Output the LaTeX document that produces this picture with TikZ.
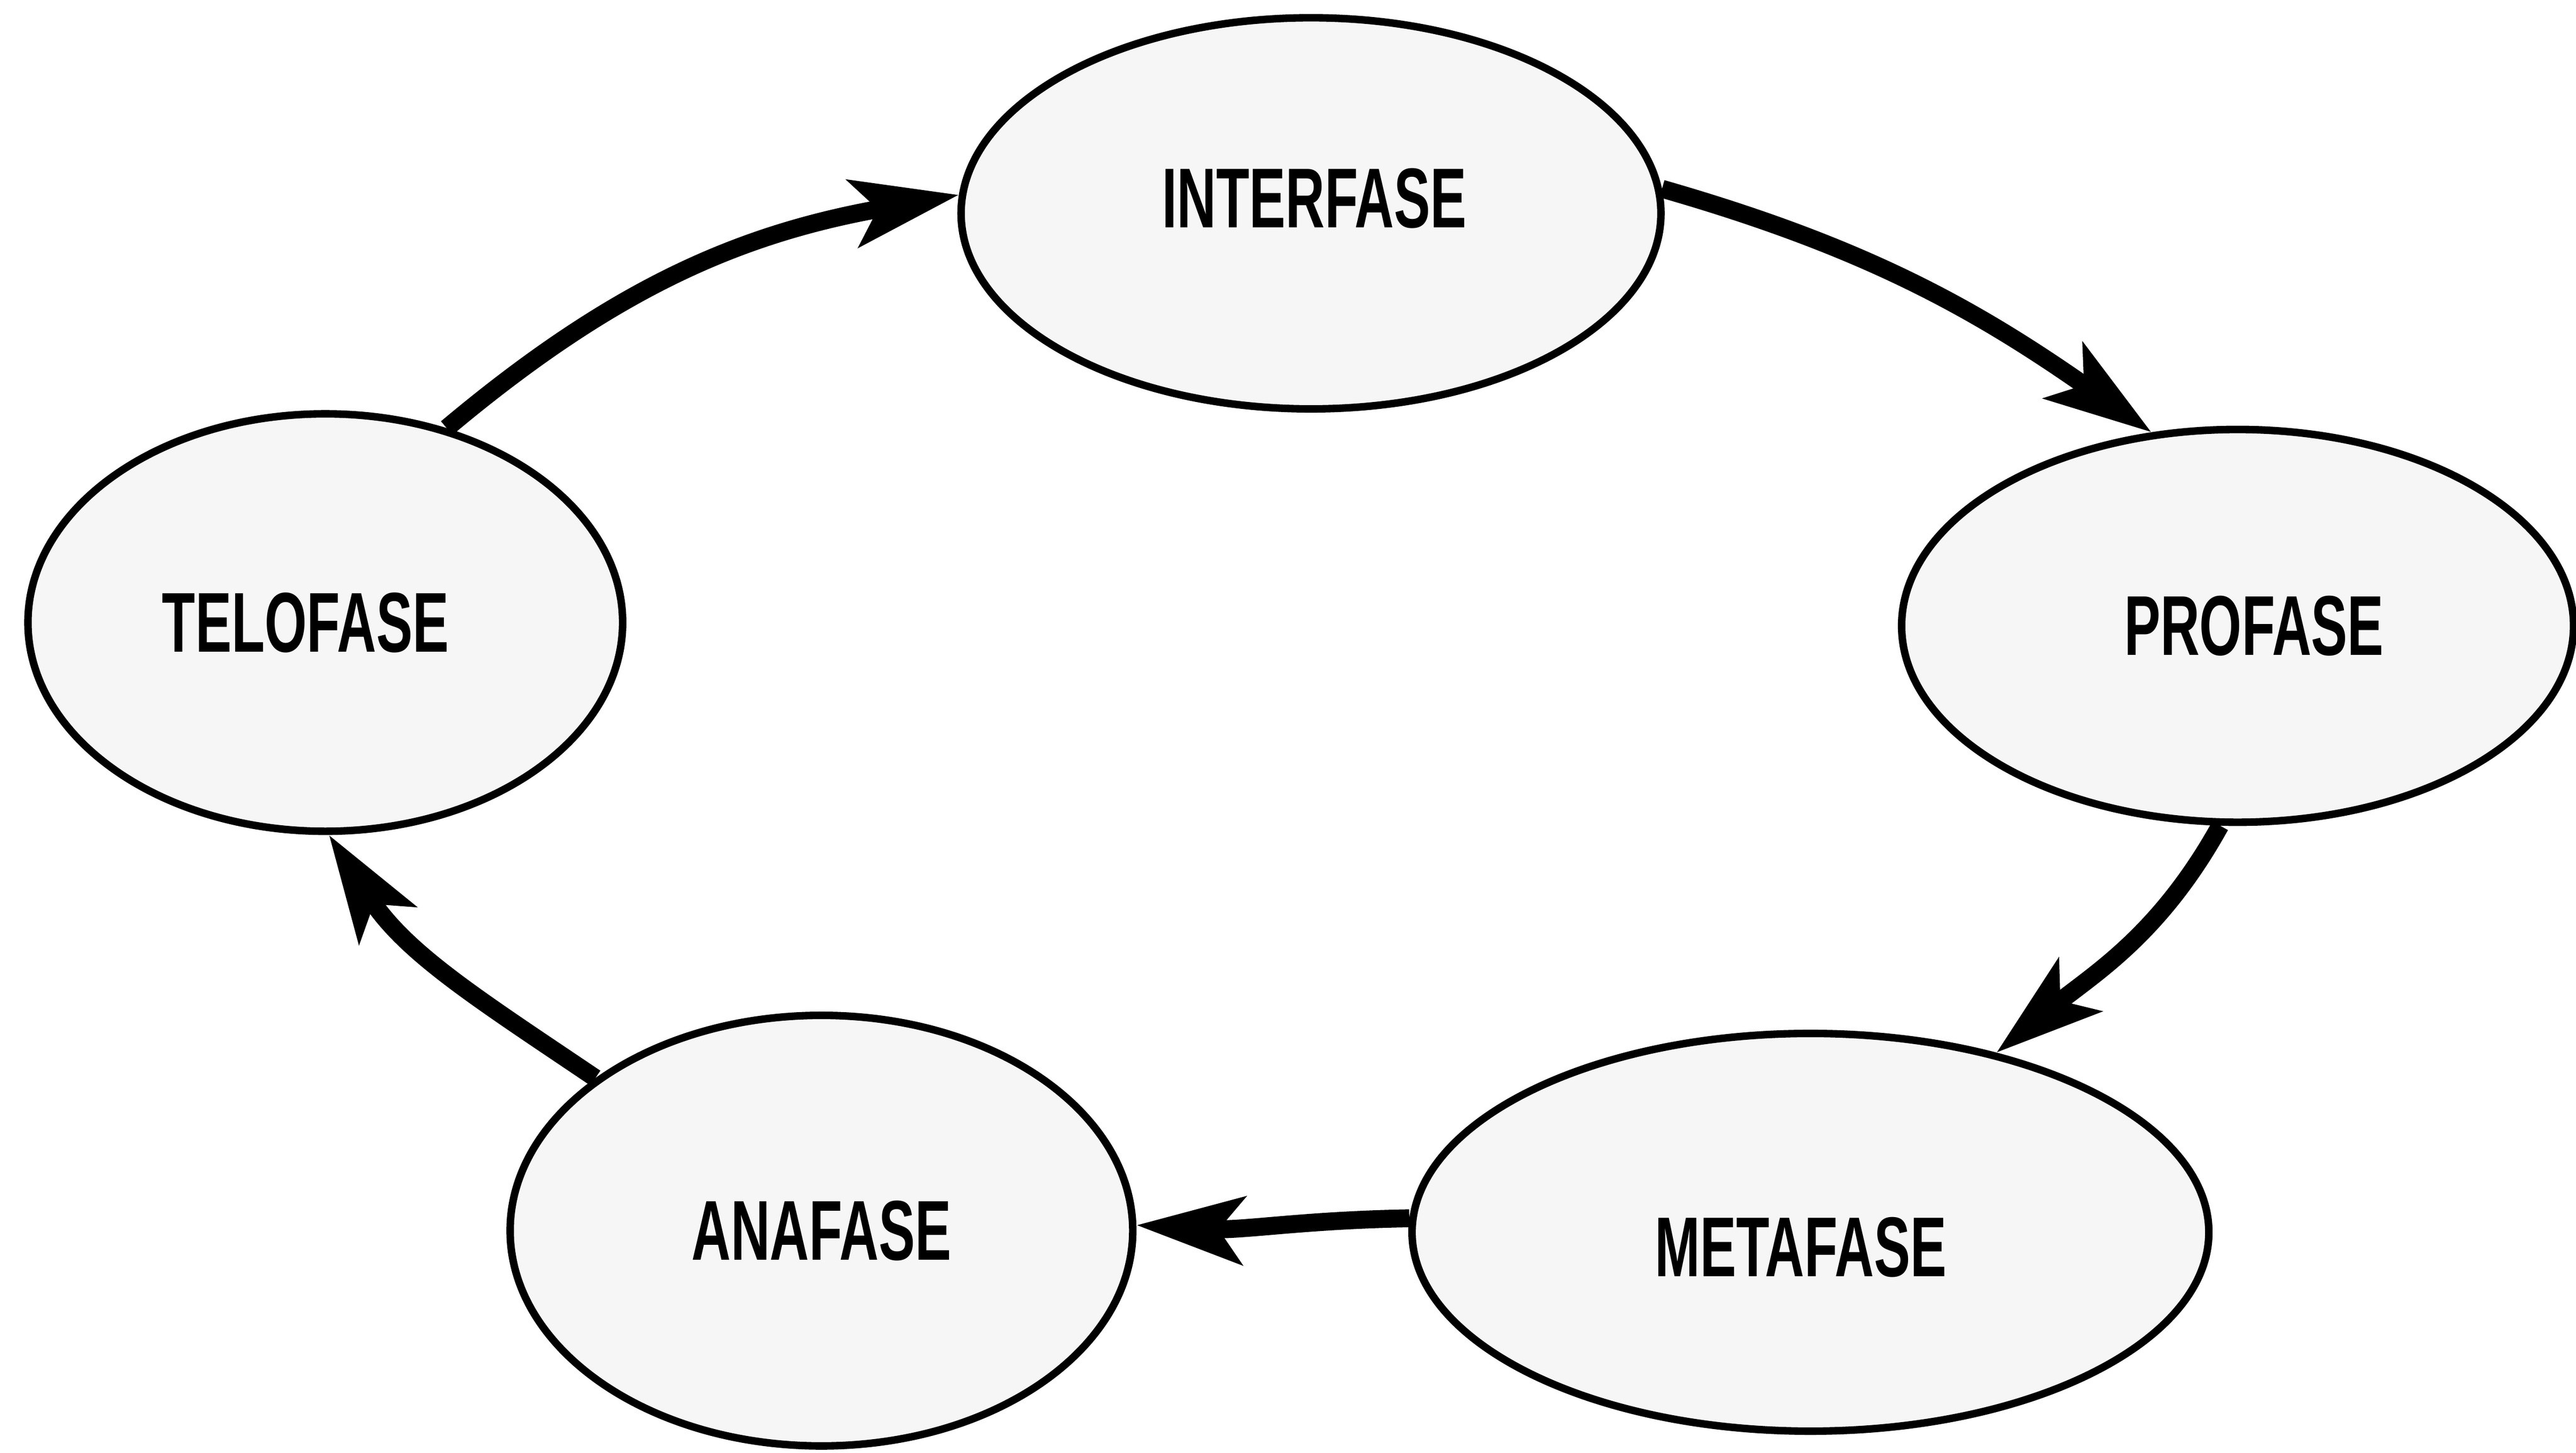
\documentclass[tikz,border=0pt]{standalone}
\usepackage{fontspec}
\newfontfamily\fasefont[FakeStretch=0.64]{Liberation Sans}
\usetikzlibrary{shapes.geometric,arrows.meta}

\begin{document}
\begin{tikzpicture}[
		fase/.style={draw, ellipse, line width=1.3pt, fill=gray!7, inner sep=0pt},
		texto/.style={font=\fasefont\bfseries\fontsize{14.7}{16}\selectfont, inner sep=0pt},
		flecha/.style={line width=3.1pt, -{Stealth[length=6.5mm, width=4.1mm, inset=1.5mm]}}
	]

		\useasboundingbox (0,0) rectangle (15.68,8.838);

		\node[fase, minimum width=4.26cm, minimum height=2.38cm,
			label={[texto, xshift=0.02cm, yshift=0.09cm]center:INTERFASE}] (inter) at (7.98,7.54) {}; %Fase
		\node[fase, minimum width=4.09cm, minimum height=2.39cm,
			label={[texto, xshift=0.10cm]center:PROFASE}] (pro) at (13.62,5.03) {}; %Fase
		\node[fase, minimum width=4.85cm, minimum height=2.42cm,
			label={[texto, xshift=-0.06cm, yshift=-0.09cm]center:METAFASE}] (meta) at (11.02,1.34) {}; %Fase
		\node[fase, minimum width=3.79cm, minimum height=2.62cm,
			label={[texto]center:ANAFASE}] (ana) at (5.00,1.35) {}; %Fase
		\node[fase, minimum width=3.62cm, minimum height=2.54cm,
			label={[texto, xshift=-0.12cm]center:TELOFASE}] (telo) at (1.98,5.05) {}; %Fase

		\draw[flecha] (telo.58) to[out=40, in=190] (inter.177);
		\draw[flecha] (inter.4) to[out=-16, in=145] (pro.114);
		\draw[flecha] (pro.265) to[out=241, in=39] (meta.44);
		\draw[flecha] (meta.178) to[out=181, in=-3] (ana.1);
		\draw[flecha] (ana.146) to[out=146, in=303] (telo.271);

	\end{tikzpicture}
\end{document}
